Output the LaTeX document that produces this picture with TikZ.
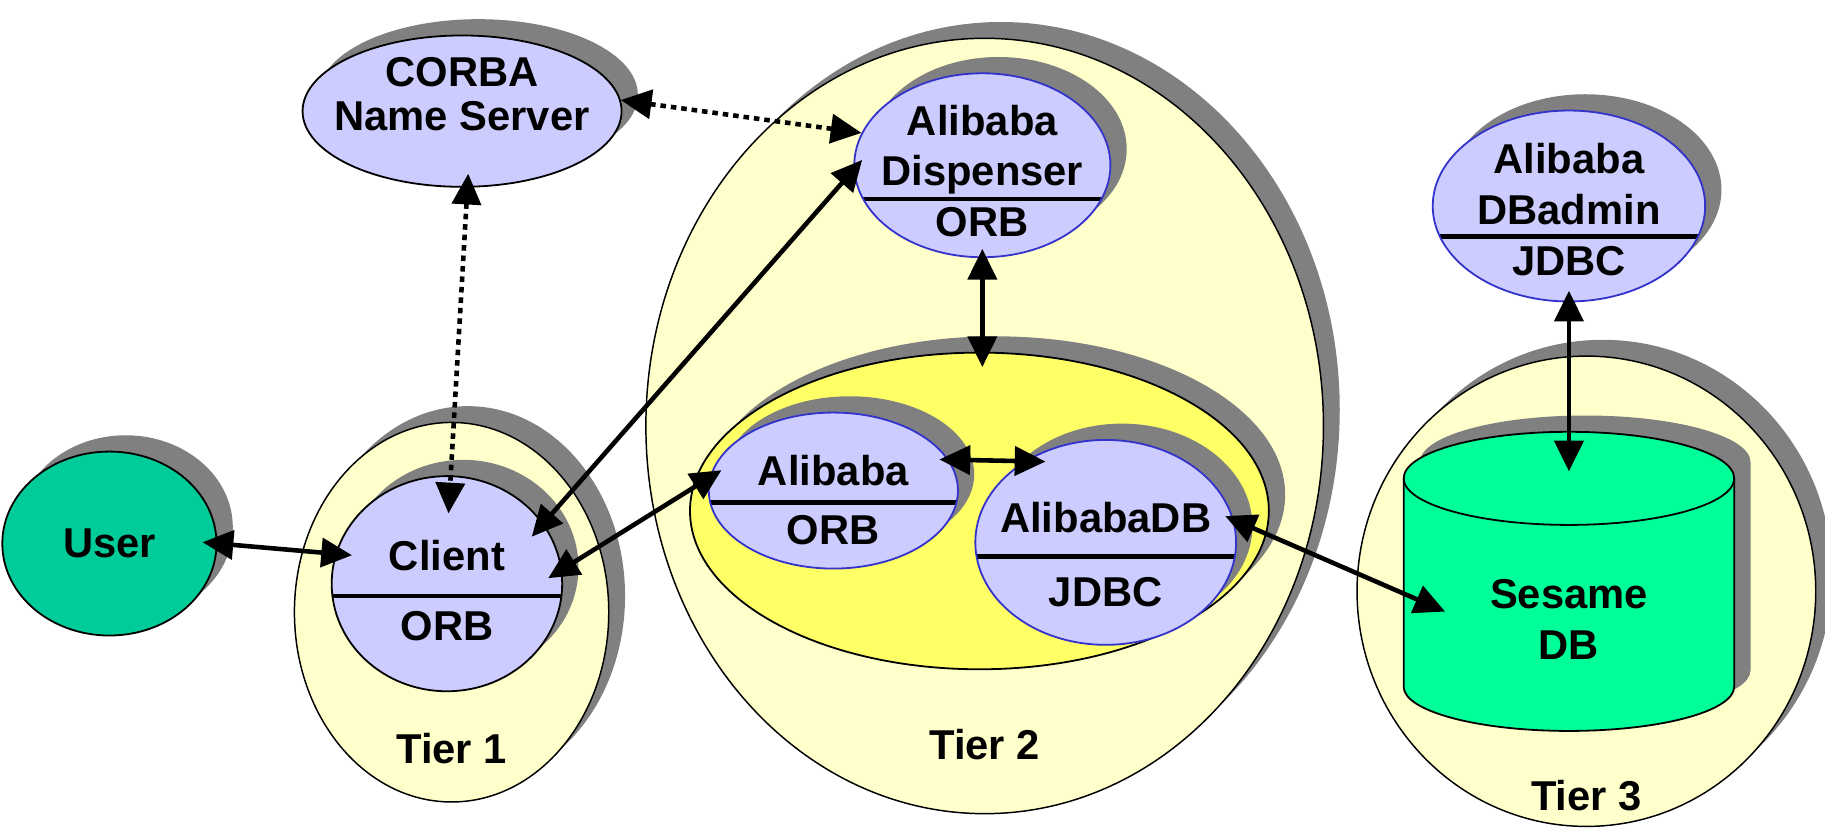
\documentclass[tikz,border=0pt]{standalone}
\usepackage{fontspec}
\setmainfont{Liberation Sans}
\usetikzlibrary{shapes.geometric, arrows.meta, shadows}

\definecolor{tierfill}{HTML}{FFFFCC}
\definecolor{zonefill}{HTML}{FFFF66}
\definecolor{compfill}{HTML}{CCCCFF}
\definecolor{compline}{HTML}{3333CC}
\definecolor{userfill}{HTML}{00CC99}
\definecolor{dbfill}{HTML}{00FF99}
\definecolor{shadowgray}{HTML}{808080}

\tikzstyle{shadowed} = [drop shadow={shadow xshift=0.35cm, shadow yshift=0.35cm, fill=shadowgray, opacity=1}]
\tikzstyle{txt} = [font=\bfseries\fontsize{25.5}{31}\selectfont, align=center]
\tikzstyle{tier} = [ellipse, draw=black, line width=0.9pt, fill=tierfill, shadowed]
\tikzstyle{zone} = [ellipse, draw=black, line width=1.1pt, fill=zonefill, shadowed]
\tikzstyle{comp} = [ellipse, draw=black, line width=1.1pt, fill=compfill, shadowed, inner sep=0pt]
\tikzstyle{compb} = [comp, draw=compline]
\tikzstyle{actor} = [ellipse, draw=black, line width=1.1pt, fill=userfill, shadowed, txt]
\tikzstyle{link} = [line width=2.8pt, <->, >={Triangle[length=0.66cm, width=0.62cm]}]
\tikzstyle{lookup} = [link, dash pattern=on 3.4pt off 3pt]
\tikzset{divider/.style={path picture={\draw[draw=black, line width=2.8pt] ([yshift=#1]path picture bounding box.west) -- ([yshift=#1]path picture bounding box.east);}}}
% database drum, outline only (caps: 40 and 38 units high)
\newcommand{\drumpath}{(1206,301) -- (1206,122) arc[start angle=180, end angle=360, x radius=142, y radius=38] -- (1490,301) arc[start angle=0, end angle=180, x radius=142, y radius=40] -- cycle}

\begin{document}
\begin{tikzpicture}[x=0.025cm, y=0.025cm]
\useasboundingbox (0,0) rectangle (1568,712);

% tiers
\node (tierA) [tier, minimum width=6.75cm, minimum height=8.15cm, label={[txt, yshift=-2.93cm]center:Tier 1}] at (388,186) {};
\node (tierB) [tier, minimum width=14.55cm, minimum height=16.65cm, label={[txt, yshift=-6.85cm]center:Tier 2}] at (846,346) {};
\node (tierC) [tier, minimum width=9.85cm, minimum height=10.1cm, label={[txt, yshift=-4.38cm]center:Tier 3}] at (1363,204) {};
\node (core) [zone, minimum width=12.43cm, minimum height=6.8cm] at (841.5,273) {};

% components
\node (user) [actor, minimum width=4.6cm, minimum height=3.95cm] at (94,245) {User};
\node (client) [comp, minimum width=4.95cm, minimum height=4.62cm, divider=-0.26cm, label={[txt, yshift=-0.15cm]center:Client\\[12pt]ORB}] at (384,210.5) {};
\node (corba) [comp, minimum width=6.85cm, minimum height=3.25cm, label={[txt, yshift=0.36cm]center:CORBA\\[-4pt]Name Server}] at (397,616.5) {};
\node (disp) [compb, minimum width=5.5cm, minimum height=3.95cm, divider=-0.72cm, label={[txt, yshift=-0.12cm]center:Alibaba\\Dispenser\\ORB}] at (844,570) {};
\node (alibaba) [compb, minimum width=5.35cm, minimum height=3.35cm, divider=-0.26cm, label={[txt, yshift=-0.2cm]center:Alibaba\\[5pt]ORB}] at (716,290.5) {};
\node (alidb) [compb, minimum width=5.6cm, minimum height=4.4cm, divider=-0.3cm, label={[txt, yshift=-0.26cm]center:AlibabaDB\\[14pt]JDBC}] at (950,246) {};
\node (dbadmin) [compb, minimum width=5.85cm, minimum height=4.1cm, divider=-0.65cm, label={[txt, yshift=-0.08cm]center:Alibaba\\DBadmin\\JDBC}] at (1348,535) {};

% Sesame drum
\fill [shadowgray, shift={(14,14)}] \drumpath;
\draw [line width=1.1pt, fill=dbfill] \drumpath;
\draw [line width=1.1pt] (1206,301) arc[start angle=180, end angle=360, x radius=142, y radius=40];
\node (sesame) [txt] at (1348,179.5) {Sesame\\DB};
\coordinate (dbside) at (1206,202);
\coordinate (dbtop) at (1350,341);

% connectors
\draw [link, shorten <=-0.32cm, shorten >=-0.36cm] (user.east) -- (client.165);
\draw [lookup, shorten <=-0.3cm, shorten >=-0.82cm] (corba.-86) -- (client.88);
\draw [lookup] (corba.4) -- (disp.165);
\draw [link, shorten <=-0.38cm, shorten >=-0.28cm] (client.32) -- (disp.182);
\draw [link, shorten <=-0.35cm, shorten >=-0.3cm] (client.7) -- (alibaba.174);
\draw [link, shorten <=-0.2cm, shorten >=-0.33cm] (disp.south) -- (disp.south |- core.north);
\draw [link, shorten <=-0.2cm, shorten >=-0.45cm] (alibaba.15) -- (alidb.135);
\draw [link, shorten <=-0.2cm, shorten >=-0.97cm] (alidb.10) -- (dbside);
\draw [link, shorten <=-0.25cm, shorten >=-0.85cm] (dbadmin.south) -- (dbadmin.south |- dbtop);
\end{tikzpicture}
\end{document}
